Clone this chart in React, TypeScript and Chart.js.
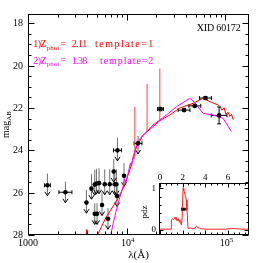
import React, { useEffect, useRef } from "react";
import { Chart, registerables } from "chart.js";
Chart.register(...registerables);

// ---------- Template 1 (red), z=2.11 : wavelength (Å) / AB mag
const tpl1Lambda = [3500, 3862, 3906, 3952, 4400, 5048, 6229, 7974, 9544, 10725, 12540, 14630, 18470, 21600, 27280, 34430, 46960, 59300, 69330, 84140, 88600, 91740, 97230, 100700, 106250, 110550, 115040, 119400];
const tpl1Mag = [29.5, 28.6, 27.75, 28.6, 29.0, 28.0, 27.13, 26.35, 25.64, 24.93, 23.83, 23.28, 22.88, 22.6, 22.33, 22.0, 21.78, 21.54, 21.7, 21.86, 21.95, 22.1, 22.0, 22.3, 22.2, 22.4, 22.3, 22.55];

// emission-line spikes of template 1
const spikeLambda = [12050, 16060, 21600];
const spikeBase = [24.4, 23.1, 22.6];
const spikeTop = [21.94, 20.87, 20.13];

// ---------- Template 2 (magenta), z=1.38
const tpl2Lambda = [6500, 6884, 7556, 8356, 9173, 9500, 9800, 10308, 10900, 11200, 11583, 12540, 13500, 14630, 18470, 25250, 31890, 43480, 46960, 59300, 74860, 94560, 115040];
const tpl2Mag = [29.0, 28.0, 27.13, 26.35, 25.72, 25.35, 25.5, 25.09, 24.6, 24.75, 24.3, 23.83, 23.45, 23.3, 22.8, 22.33, 21.94, 21.54, 21.66, 22.25, 22.33, 22.49, 23.12];

// ---------- Photometry
const photLambda = [1573, 2393, 3906, 4390, 4741, 4932, 5241, 5986, 6726, 7556, 7864, 4741, 5002, 5619, 6464, 7384, 8050, 7974, 9389, 13015, 21950, 38060, 48870, 62720, 86140];
const photMag = [25.65, 25.98, 26.47, 25.81, 25.62, 25.57, 25.55, 25.6, 25.6, 25.6, 25.6, 27.0, 27.0, 26.58, 27.23, 25.0, 24.0, 26.16, 25.2, 23.67, 22.05, 22.1, 21.9, 21.53, 22.35];
const photErr = [0.55, 0.5, 0.6, 0.7, 0.7, 0.7, 0.7, 0.7, 0.7, 0.7, 0.7, 0.5, 0.5, 0.6, 0.5, 0.6, 0.6, 0.6, 0.6, 0.35, 0.08, 0.06, 0.06, 0.06, 0.4];
const photLogErr = [0.03, 0.066, 0, 0, 0, 0, 0, 0, 0, 0, 0, 0, 0, 0, 0, 0, 0.04, 0, 0, 0.04, 0.03, 0.06, 0.06, 0.06, 0.08];
const photUpper = [true, true, true, true, true, true, true, true, true, true, true, true, true, true, true, true, true, true, true, true, false, false, false, false, false];

// ---------- Inset: photometric redshift probability
const pdzZ = [-0.09, 0.5, 0.99, 1.0, 1.1, 1.2, 1.3, 1.35, 1.4, 1.5, 1.6, 1.7, 1.75, 1.8, 1.89, 1.95, 2.03, 2.1, 2.18, 2.33, 2.38, 2.47, 2.55, 2.7, 2.9, 3.1, 3.2, 3.3, 3.5, 3.7, 4.0, 5.0, 5.8, 6.0, 6.3, 6.6, 6.9, 7.2, 7.85];
const pdzP = [0.02, 0.02, 0.02, 0.24, 0.27, 0.25, 0.3, 0.26, 0.31, 0.22, 0.27, 0.19, 0.25, 0.18, 0.12, 0.3, 1.0, 0.95, 0.88, 0.72, 0.48, 0.04, 0.04, 0.05, 0.03, 0.05, 0.09, 0.07, 0.04, 0.03, 0.02, 0.02, 0.02, 0.03, 0.035, 0.03, 0.03, 0.02, 0.02];
const zBest = [2.11];
const zBestP = [0.5];
const zBestErr = [0.2];

// ---------- Axes ticks
const xMajor = [1000, 10000, 100000];
const xMajorExp = ["", "4", "5"];
const xMinor = [2000, 3000, 4000, 5000, 6000, 7000, 8000, 9000, 20000, 30000, 40000, 50000, 60000, 70000, 80000, 90000];
const yMajor = [18, 20, 22, 24, 26, 28];
const yMinor = [18.5, 19, 19.5, 20.5, 21, 21.5, 22.5, 23, 23.5, 24.5, 25, 25.5, 26.5, 27, 27.5];
const insetXMajor = [0, 2, 4, 6];
const insetXMinor = [0.5, 1, 1.5, 2.5, 3, 3.5, 4.5, 5, 5.5, 6.5, 7, 7.5];
const insetYMajor = [0, 1];
const insetYMinor = [0.2, 0.4, 0.6, 0.8];

const SERIF = '"Liberation Serif", "DejaVu Serif", serif';
const f = (px: number) => `${px}px ${SERIF}`;

// draw text so that it spans a given width, by spreading the letters
function spaced(ctx: CanvasRenderingContext2D, text: string, x: number, y: number, width: number) {
  const chars = Array.from(text);
  const ws = chars.map((c) => ctx.measureText(c).width);
  const total = ws.reduce((a, b) => a + b, 0);
  const gap = chars.length > 1 ? (width - total) / (chars.length - 1) : 0;
  let cx = x;
  chars.forEach((c, i) => {
    ctx.fillText(c, cx, y);
    cx += ws[i] + gap;
  });
}

function line(ctx: CanvasRenderingContext2D, x1: number, y1: number, x2: number, y2: number) {
  ctx.beginPath();
  ctx.moveTo(x1, y1);
  ctx.lineTo(x2, y2);
  ctx.stroke();
}

const mainPlugin = {
  id: "mainDecor",
  beforeDatasetsDraw(chart: any) {
    const { ctx, chartArea: ca, scales } = chart;
    const x = scales.x, y = scales.y;
    ctx.save();
    ctx.beginPath();
    ctx.rect(ca.left, ca.top, ca.right - ca.left, ca.bottom - ca.top);
    ctx.clip();
    ctx.lineWidth = 1;
    for (let i = 0; i < photLambda.length; i++) {
      const px = x.getPixelForValue(photLambda[i]);
      const py = y.getPixelForValue(photMag[i]);
      if (photLogErr[i] > 0) {
        const lo = x.getPixelForValue(photLambda[i] / Math.pow(10, photLogErr[i]));
        const hi = x.getPixelForValue(photLambda[i] * Math.pow(10, photLogErr[i]));
        ctx.strokeStyle = "#000";
        line(ctx, lo, py, hi, py);
        line(ctx, lo, py - 2, lo, py + 2);
        line(ctx, hi, py - 2, hi, py + 2);
      }
      if (photUpper[i]) {
        const top = y.getPixelForValue(photMag[i] - photErr[i]);
        const bot = y.getPixelForValue(photMag[i] + 0.5);
        ctx.strokeStyle = "#707070";
        line(ctx, px, top, px, bot);
        ctx.strokeStyle = "#000";
        ctx.beginPath();
        ctx.moveTo(px - 2.5, bot - 4);
        ctx.lineTo(px, bot);
        ctx.lineTo(px + 2.5, bot - 4);
        ctx.stroke();
      } else {
        const top = y.getPixelForValue(photMag[i] - photErr[i]);
        const bot = y.getPixelForValue(photMag[i] + photErr[i]);
        ctx.strokeStyle = "#000";
        line(ctx, px, top, px, bot);
        line(ctx, px - 2, top, px + 2, top);
        line(ctx, px - 2, bot, px + 2, bot);
      }
    }
    ctx.restore();
  },
  afterDraw(chart: any) {
    const { ctx, chartArea: ca, scales } = chart;
    const x = scales.x, y = scales.y;
    ctx.save();
    ctx.strokeStyle = "#000";
    ctx.lineWidth = 1;
    const L = Math.round(ca.left) + 0.5, R = Math.round(ca.right) - 0.5;
    const T = Math.round(ca.top) + 0.5, B = Math.round(ca.bottom) - 0.5;
    ctx.strokeRect(L, T, R - L, B - T);
    const xt = (v: number, len: number) => {
      const p = Math.round(x.getPixelForValue(v)) + 0.5;
      line(ctx, p, B, p, B - len);
      line(ctx, p, T, p, T + len);
    };
    const yt = (v: number, len: number) => {
      const p = Math.round(y.getPixelForValue(v)) + 0.5;
      line(ctx, L, p, L + len, p);
      line(ctx, R, p, R - len, p);
    };
    xMajor.forEach((v) => xt(v, 6));
    xMinor.forEach((v) => xt(v, 3));
    yMajor.forEach((v) => yt(v, 6));
    yMinor.forEach((v) => yt(v, 3));

    ctx.fillStyle = "#000";
    // y tick labels
    ctx.font = f(10);
    ctx.textAlign = "right";
    ctx.textBaseline = "middle";
    yMajor.forEach((v) => ctx.fillText(String(v), ca.left - 5, y.getPixelForValue(v) + 0.5));
    // x tick labels
    ctx.textBaseline = "alphabetic";
    ctx.textAlign = "left";
    xMajor.forEach((v, i) => {
      const p = x.getPixelForValue(v);
      const exp = xMajorExp[i];
      if (!exp) {
        ctx.font = f(10);
        const w = ctx.measureText(String(v)).width;
        ctx.fillText(String(v), p - w / 2, ca.bottom + 11);
      } else {
        ctx.font = f(10);
        const w1 = ctx.measureText("10").width;
        ctx.font = f(7);
        const w2 = ctx.measureText(exp).width;
        const x0 = p - (w1 + w2) / 2 + 1;
        ctx.font = f(10);
        ctx.fillText("10", x0, ca.bottom + 11);
        ctx.font = f(7);
        ctx.fillText(exp, x0 + w1, ca.bottom + 7);
      }
    });
    // x title
    ctx.font = f(11);
    ctx.textAlign = "center";
    ctx.fillText("λ(Å)", (ca.left + ca.right) / 2, 258);
    // y title
    ctx.save();
    ctx.translate(7, (ca.top + ca.bottom) / 2);
    ctx.rotate(-Math.PI / 2);
    ctx.textAlign = "left";
    ctx.font = f(10);
    const m1 = ctx.measureText("mag").width;
    ctx.font = f(7);
    const m2 = ctx.measureText("AB").width;
    ctx.font = f(10);
    ctx.fillText("mag", -(m1 + m2) / 2, 1.6);
    ctx.font = f(7);
    ctx.fillText("AB", -(m1 + m2) / 2 + m1, 4);
    ctx.restore();

    // Object id
    ctx.font = f(10);
    ctx.textAlign = "left";
    spaced(ctx, "XID 60172", 196.7, 30.5, 44);

    // legend lines
    const legend = (color: string, idx: string, z: string, tpl: string, yb: number, tplX: number) => {
      ctx.fillStyle = color;
      ctx.font = f(10);
      spaced(ctx, idx + ")Z", 33.3, yb, 13.4);
      ctx.font = f(7);
      spaced(ctx, "phot", 46.7, yb + 2.5, 12.5);
      ctx.font = f(10);
      ctx.fillText("=", 60.5, yb - 0.5);
      spaced(ctx, z, 71.7, yb, 15.6);
      spaced(ctx, tpl, tplX, yb, 153.3 - tplX);
    };
    legend("#ff0000", "1", "2.11", "template=1", 47, 95);
    legend("#ff00ff", "2", "1.38", "template=2", 63.5, 100);
    ctx.restore();
  },
};

const insetPlugin = {
  id: "insetDecor",
  beforeDatasetsDraw(chart: any) {
    const { ctx, chartArea: ca, scales } = chart;
    const x = scales.x, y = scales.y;
    ctx.save();
    ctx.fillStyle = "#fff";
    ctx.fillRect(ca.left, ca.top, ca.right - ca.left, ca.bottom - ca.top);
    ctx.strokeStyle = "#000";
    ctx.lineWidth = 1;
    for (let i = 0; i < zBest.length; i++) {
      const py = y.getPixelForValue(zBestP[i]);
      const lo = x.getPixelForValue(zBest[i] - zBestErr[i]);
      const hi = x.getPixelForValue(zBest[i] + zBestErr[i]);
      line(ctx, lo, py, hi, py);
      line(ctx, lo, py - 1.5, lo, py + 1.5);
      line(ctx, hi, py - 1.5, hi, py + 1.5);
    }
    ctx.restore();
  },
  afterDraw(chart: any) {
    const { ctx, chartArea: ca, scales } = chart;
    const x = scales.x, y = scales.y;
    ctx.save();
    ctx.strokeStyle = "#000";
    ctx.lineWidth = 1;
    const L = Math.round(ca.left) + 0.5, R = Math.round(ca.right) - 0.5;
    const T = Math.round(ca.top) + 0.5, B = Math.round(ca.bottom) - 0.5;
    ctx.strokeRect(L, T, R - L, B - T);
    const xt = (v: number, len: number) => {
      const p = Math.round(x.getPixelForValue(v)) + 0.5;
      line(ctx, p, B, p, B - len);
      line(ctx, p, T, p, T + len);
    };
    const yt = (v: number, len: number) => {
      const p = Math.round(y.getPixelForValue(v)) + 0.5;
      line(ctx, L, p, L + len, p);
      line(ctx, R, p, R - len, p);
    };
    insetXMajor.forEach((v) => xt(v, 4));
    insetXMinor.forEach((v) => xt(v, 2));
    insetYMajor.forEach((v) => yt(v, 4));
    insetYMinor.forEach((v) => yt(v, 2));
    ctx.fillStyle = "#000";
    ctx.font = f(9);
    ctx.textAlign = "center";
    ctx.textBaseline = "alphabetic";
    insetXMajor.forEach((v) => ctx.fillText(String(v), x.getPixelForValue(v), ca.top - 3));
    ctx.textAlign = "right";
    ctx.textBaseline = "middle";
    insetYMajor.forEach((v) => ctx.fillText(String(v), ca.left - 3, y.getPixelForValue(v)));
    ctx.save();
    ctx.translate(5, 47);
    ctx.rotate(-Math.PI / 2);
    ctx.textAlign = "center";
    ctx.textBaseline = "middle";
    ctx.fillText("pdz", 0, 0);
    ctx.restore();
    ctx.restore();
  },
};

export default function App() {
  const mainRef = useRef<HTMLCanvasElement>(null);
  const insetRef = useRef<HTMLCanvasElement>(null);

  useEffect(() => {
    const lineDs = (xs: number[], ys: number[], color: string, width: number) => ({
      data: xs.map((v, i) => ({ x: v, y: ys[i] })),
      showLine: true,
      borderColor: color,
      backgroundColor: color,
      borderWidth: width,
      pointRadius: 0,
      fill: false,
    });
    const spikes = spikeLambda.map((l, i) =>
      lineDs([l, l], [spikeBase[i], spikeTop[i]], "rgba(255,50,50,0.7)", 1.3)
    );
    const main = new Chart(mainRef.current as HTMLCanvasElement, {
      type: "scatter",
      data: {
        datasets: [
          {
            data: photLambda.map((v, i) => ({ x: v, y: photMag[i] })),
            pointRadius: 2.3,
            pointBackgroundColor: "#000",
            pointBorderColor: "#000",
            pointBorderWidth: 0,
            showLine: false,
          },
          lineDs(tpl2Lambda, tpl2Mag, "#ff00ff", 1),
          lineDs(tpl1Lambda, tpl1Mag, "#ff0000", 1),
          ...spikes,
        ] as any,
      },
      options: {
        responsive: false,
        animation: false,
        events: [],
        layout: { padding: { left: 28, top: 14, right: 14, bottom: 28 } },
        plugins: { legend: { display: false }, tooltip: { enabled: false } },
        scales: {
          x: { type: "logarithmic", min: 1000, max: 173000, display: false },
          y: { type: "linear", min: 17.56, max: 28, reverse: true, display: false },
        },
      },
      plugins: [mainPlugin],
    });

    const inset = new Chart(insetRef.current as HTMLCanvasElement, {
      type: "scatter",
      data: {
        datasets: [
          {
            data: zBest.map((v, i) => ({ x: v, y: zBestP[i] })),
            pointRadius: 1.8,
            pointBackgroundColor: "#000",
            pointBorderColor: "#000",
            pointBorderWidth: 0,
            showLine: false,
          },
          lineDs(pdzZ, pdzP, "#ff2020", 1),
        ] as any,
      },
      options: {
        responsive: false,
        animation: false,
        events: [],
        layout: { padding: { left: 19, top: 18, right: 14, bottom: 28 } },
        plugins: { legend: { display: false }, tooltip: { enabled: false } },
        scales: {
          x: { type: "linear", min: -0.09, max: 7.85, display: false },
          y: { type: "linear", min: -0.12, max: 1.13, display: false },
        },
      },
      plugins: [insetPlugin],
    });

    return () => {
      main.destroy();
      inset.destroy();
    };
  }, []);

  return (
    <div style={{ position: "fixed", left: 0, top: 0, width: 263, height: 263, background: "#fff" }}>
      <canvas ref={mainRef} width={263} height={263} style={{ position: "absolute", left: 0, top: 0 }} />
      <canvas ref={insetRef} width={123} height={98} style={{ position: "absolute", left: 140, top: 165 }} />
    </div>
  );
}
